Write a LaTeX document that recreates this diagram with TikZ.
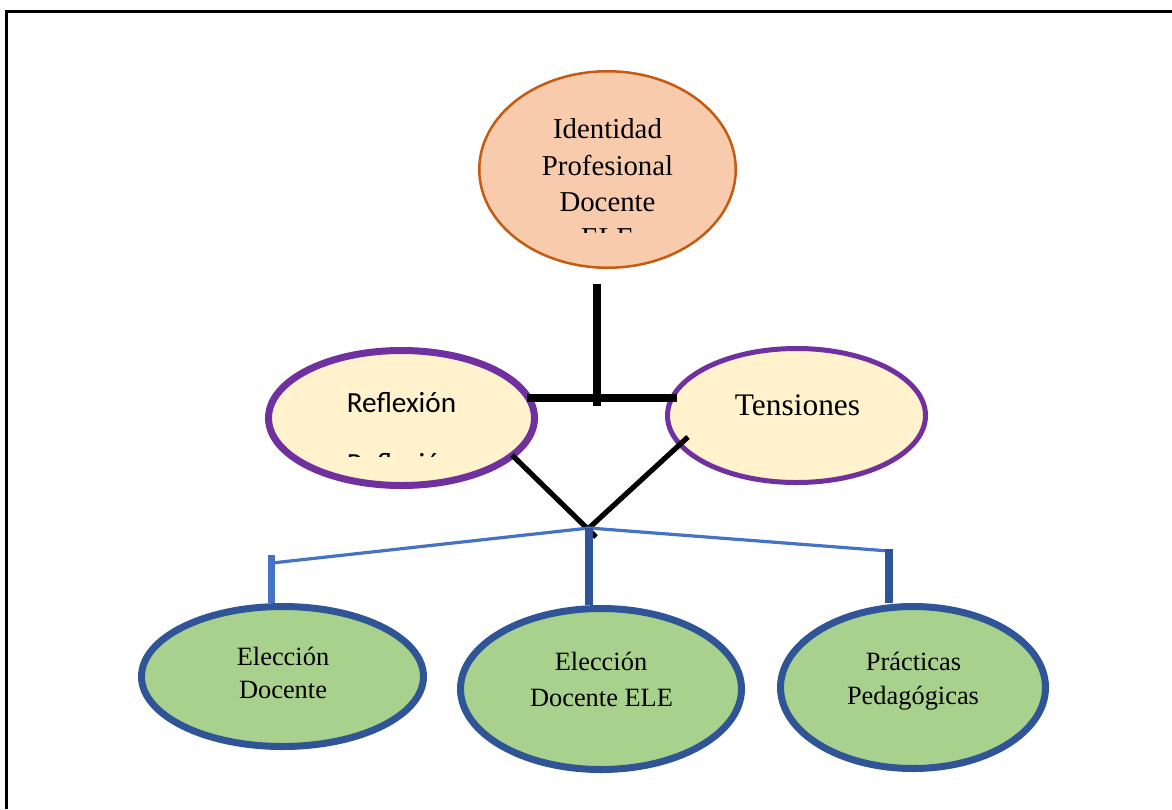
\documentclass[tikz,border=0pt]{standalone}
\usepackage{fontspec}
\setmainfont{Liberation Serif}
\newfontfamily\calibrifont{Carlito}
\usetikzlibrary{shapes.geometric}
\definecolor{orfill}{HTML}{F8CBAD}
\definecolor{ordraw}{HTML}{C55A11}
\definecolor{purp}{HTML}{7030A0}
\definecolor{yel}{HTML}{FFF2CC}
\definecolor{grn}{HTML}{A9D18E}
\definecolor{dblue}{HTML}{2F5597}
\definecolor{lblue}{HTML}{4472C4}
\tikzset{
  ell/.style={ellipse, inner sep=0pt, minimum width=#1},
  txt/.style={anchor=base, inner sep=0pt},
  blk/.style={draw=black, line width=4pt},
  blkthin/.style={draw=black, line width=2.6pt},
  bthin/.style={draw=lblue, line width=1.6pt},
  bvert/.style={line width=3.6pt},
}
\begin{document}
\begin{tikzpicture}[x=0.5pt,y=-0.5pt]
\useasboundingbox (0,0) rectangle (1172,809);
% frame
\draw[line width=1.5pt] (1172,11.5) -- (6.5,11.5) -- (6.5,809);
% ellipses
\node[ell=128.25pt, minimum height=98.25pt, fill=orfill, draw=ordraw, line width=1.25pt] (top) at (607.5,169.5) {};
\node[ell=133pt, minimum height=67.5pt, fill=yel, draw=purp, line width=3.5pt] (refl) at (401.5,418) {};
\node[ell=129pt, minimum height=67pt, fill=yel, draw=purp, line width=2.5pt] (tens) at (796.5,415.5) {};
\node[ell=141pt, minimum height=70pt, fill=grn, draw=dblue, line width=3.5pt] (eld) at (282.5,676.5) {};
\node[ell=140.5pt, minimum height=80.5pt, fill=grn, draw=dblue, line width=3.5pt] (ele) at (601,689) {};
\node[ell=132.5pt, minimum height=81pt, fill=grn, draw=dblue, line width=3.5pt] (prac) at (913,687.5) {};
% texts
\begin{scope}[font=\fontsize{14.4pt}{17pt}\selectfont]
\node[txt] (t1) at (607.5,138) {Identidad};
\node[txt] (t2) at (607.5,175) {Profesional};
\node[txt] (t3) at (607.5,211) {Docente};
\begin{scope}
\clip (450,60) rectangle (760,232);
\node[txt] (t4) at (607.5,247) {ELE};
\end{scope}
\end{scope}
\node[txt, font=\calibrifont\fontsize{14.6pt}{17pt}\selectfont] (r1) at (401.5,412) {Reflexión};
\begin{scope}
\clip (250,440) rectangle (560,456);
\node[txt, font=\calibrifont\fontsize{14.6pt}{17pt}\selectfont] (r2) at (401.5,473) {Reflexión};
\end{scope}
\node[txt, font=\fontsize{15.7pt}{18pt}\selectfont] (tn) at (797.5,415) {Tensiones};
\begin{scope}[font=\fontsize{13.2pt}{16pt}\selectfont]
\node[txt] (a1) at (283,665) {Elección};
\node[txt] (a2) at (283,698) {Docente};
\node[txt] (b1) at (601,670) {Elección};
\node[txt] (b2) at (601.5,706) {Docente ELE};
\node[txt] (c1) at (913.5,670) {Prácticas};
\node[txt] (c2) at (913,704) {Pedagógicas};
\end{scope}
% junction coordinates
\coordinate (vtop) at (596.5,284);
\coordinate (vbot) at (596.5,406);
\coordinate (hl) at (527,398);
\coordinate (hr) at (677,398);
\coordinate (vl1) at (512,455);
\coordinate (vl2) at (596,537);
\coordinate (vr1) at (688,437);
\coordinate (hub) at (589,528);
\coordinate (lend) at (272,563);
\coordinate (lvt) at (271.5,555);
\coordinate (rend) at (889,551);
\coordinate (rvt) at (889,549);
% black connectors
\draw[blk] (vtop) -- (vbot);
\draw[blk] (hl) -- (hr);
\draw[blkthin] (vl1) -- (vl2);
\draw[blkthin] (vr1) -- (hub);
% blue connectors
\draw[bthin] (lend) -- (hub) -- (rend);
\draw[bvert, draw=lblue] (lvt) -- (lvt |- eld.north);
\draw[bvert, draw=dblue] (hub) -- (hub |- ele.north);
\draw[bvert, draw=dblue] (rvt) -- (rvt |- prac.north);
\end{tikzpicture}
\end{document}
